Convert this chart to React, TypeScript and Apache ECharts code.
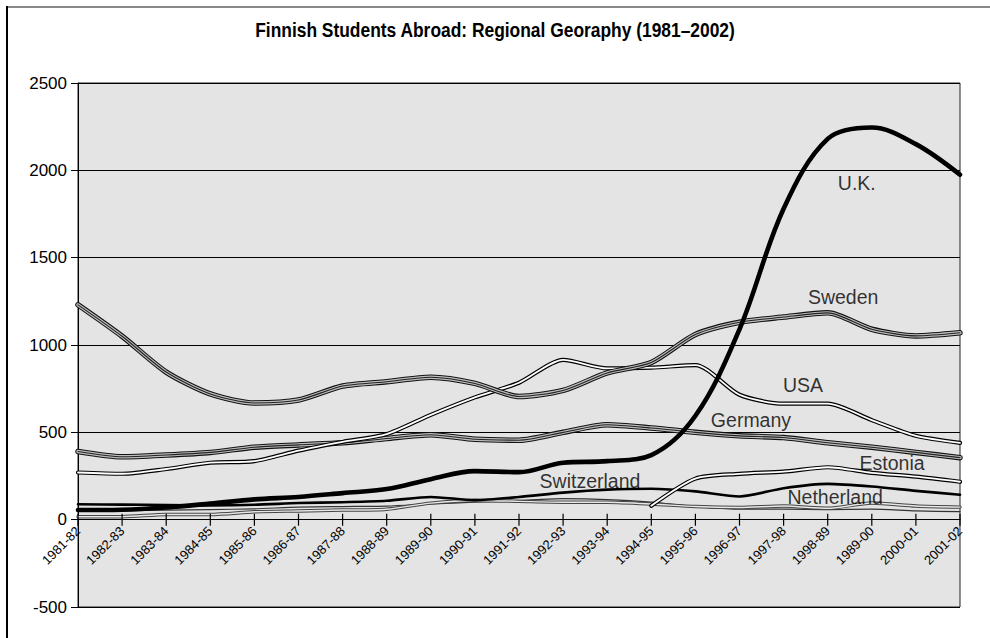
import React, { useEffect, useRef } from 'react';
import * as echarts from 'echarts';

const categories = [
  '1981-82', '1982-83', '1983-84', '1984-85', '1985-86', '1986-87', '1987-88',
  '1988-89', '1989-90', '1990-91', '1991-92', '1992-93', '1993-94', '1994-95',
  '1995-96', '1996-97', '1997-98', '1998-89', '1989-00', '2000-01', '2001-02',
];

const ukValues = [55, 57, 70, 92, 116, 130, 152, 175, 232, 278, 272, 326, 335, 370, 595, 1090, 1780, 2180, 2245, 2150, 1975];
const swedenValues = [1230, 1050, 845, 720, 668, 685, 765, 790, 815, 780, 705, 740, 840, 900, 1060, 1130, 1160, 1184, 1090, 1052, 1070];
const usaValues = [270, 263, 290, 326, 335, 395, 445, 490, 600, 700, 784, 915, 866, 870, 885, 715, 664, 664, 570, 480, 440];
const germanyValues = [390, 360, 370, 385, 415, 428, 440, 465, 486, 460, 455, 500, 543, 525, 500, 480, 470, 440, 415, 385, 355];
const estoniaValues = [null, null, null, null, null, null, null, null, null, null, null, null, null, 80, 235, 262, 275, 300, 268, 246, 217];
const switzerlandValues = [88, 86, 84, 82, 85, 95, 100, 108, 130, 112, 130, 155, 172, 177, 162, 133, 180, 205, 190, 165, 143];
const netherlandValues = [17, 17, 30, 30, 45, 50, 55, 60, 95, 110, 105, 100, 100, 90, 75, 70, 78, 65, 95, 78, 72];
const otherValues = [55, 52, 55, 58, 62, 72, 75, 78, 90, 100, 110, 120, 115, 100, 75, 60, 60, 58, 60, 50, 46];

const yTicks = { min: -500, max: 2500, interval: 500 };

const titleText = 'Finnish Students Abroad: Regional Georaphy (1981\u20132002)';

// label annotations: [category position (index), value, text]
const seriesLabels: [number, number, string][] = [
  [17.66, 1929, 'U.K.'],
  [17.35, 1277, 'Sweden'],
  [16.44, 773, 'USA'],
  [15.26, 572, 'Germany'],
  [18.46, 326, 'Estonia'],
  [11.61, 223, 'Switzerland'],
  [17.17, 132, 'Netherland'],
];

const FONT = "'Liberation Sans', Arial, sans-serif";

type Layer = { color: string; width: number };

function layered(name: string, data: (number | null)[], layers: Layer[], smooth: number) {
  return layers.map((l, k) => ({
    type: 'line',
    name: k === 0 ? name : name + ' ' + k,
    data,
    smooth,
    symbol: 'none',
    showSymbol: false,
    silent: true,
    connectNulls: false,
    xAxisIndex: 0,
    lineStyle: { color: l.color, width: l.width, cap: 'round', join: 'round' },
    emphasis: { disabled: true },
  }));
}

const hatched: Layer[] = [
  { color: '#111', width: 5.5 },
  { color: '#bdbdbd', width: 3.4 },
  { color: '#222', width: 1.1 },
];
const doubleLine: Layer[] = [
  { color: '#000', width: 4.2 },
  { color: '#ffffff', width: 1.8 },
];
const thinDouble: Layer[] = [
  { color: '#444', width: 3.4 },
  { color: '#e8e8e8', width: 1.4 },
];

const GRID_TOP = 83;
const GRID_BOTTOM = 31;
const CHART_H = 638;

export default function App() {
  const ref = useRef<HTMLDivElement>(null);
  useEffect(() => {
    if (!ref.current) return;
    const chart = echarts.init(ref.current, null, { renderer: 'svg' });
    const plotH = CHART_H - GRID_TOP - GRID_BOTTOM;
    const zeroOffset = -plotH * (0 - yTicks.min) / (yTicks.max - yTicks.min);
    const option: any = {
      animation: false,
      backgroundColor: '#ffffff',
      grid: {
        left: 78,
        right: 30,
        top: GRID_TOP,
        bottom: GRID_BOTTOM,
        containLabel: false,
        outerBoundsMode: 'none',
        show: true,
        backgroundColor: '#e4e4e4',
        borderColor: '#222',
        borderWidth: 1,
      },
      xAxis: [
        {
          type: 'category',
          data: categories,
          boundaryGap: false,
          position: 'bottom',
          offset: zeroOffset,
          axisLine: { onZero: false, lineStyle: { color: '#000', width: 1.2 } },
          axisTick: { show: false },
          axisLabel: {
            interval: 0,
            rotate: 45,
            margin: 9,
            fontFamily: FONT,
            fontSize: 13,
            color: '#000',
          },
          splitLine: { show: false },
        },
        {
          type: 'value',
          min: 0,
          max: categories.length - 1,
          show: false,
          position: 'top',
          axisLine: { onZero: false },
          splitLine: { show: false },
        },
      ],
      yAxis: {
        type: 'value',
        min: yTicks.min,
        max: yTicks.max,
        interval: yTicks.interval,
        axisLine: { show: true, lineStyle: { color: '#000', width: 1 } },
        axisTick: { show: true, length: 7, lineStyle: { color: '#000' } },
        axisLabel: {
          fontFamily: FONT,
          fontSize: 17,
          color: '#000',
          margin: 11,
          formatter: (v: number) => String(v),
        },
        splitLine: { show: true, lineStyle: { color: '#000', width: 1 } },
      },
      series: [
        ...layered('Other', otherValues, [{ color: '#333', width: 1.2 }], 0.25),
        ...layered('Netherland', netherlandValues, thinDouble, 0.25),
        ...layered('Switzerland', switzerlandValues, [{ color: '#000', width: 2.6 }], 0.25),
        ...layered('Estonia', estoniaValues, doubleLine, 0.25),
        ...layered('Germany', germanyValues, hatched, 0.25),
        ...layered('USA', usaValues, doubleLine, 0.25),
        ...layered('Sweden', swedenValues, hatched, 0.25),
        ...layered('U.K.', ukValues, [{ color: '#000', width: 4.6 }], 0.35),
        {
          type: 'custom',
          name: 'ticks',
          silent: true,
          clip: false,
          xAxisIndex: 0,
          data: categories.map((c) => [c, 0]),
          renderItem: (params: any, api: any) => {
            const p = api.coord([api.value(0), 0]);
            return {
              type: 'line',
              shape: { x1: p[0], y1: p[1] - 6, x2: p[0], y2: p[1] + 6 },
              style: { stroke: '#000', lineWidth: 1.2 },
            };
          },
          z: 5,
        },
        {
          type: 'scatter',
          name: 'labels',
          silent: true,
          xAxisIndex: 1,
          symbolSize: 0,
          data: seriesLabels.map(([x, y, t]) => ({ value: [x, y], name: t })),
          label: {
            show: true,
            position: 'inside',
            formatter: '{b}',
            fontFamily: FONT,
            fontSize: 19.5,
            color: '#000',
          },
          z: 10,
        },
      ],
      graphic: [
        { type: 'line', shape: { x1: 7, y1: 7, x2: 990, y2: 7 }, style: { stroke: '#888', lineWidth: 2 } },
        { type: 'line', shape: { x1: 7, y1: 6, x2: 7, y2: 638 }, style: { stroke: '#000', lineWidth: 2 } },
        {
          type: 'text',
          x: 495,
          y: 30,
          scaleX: 0.87,
          style: {
            text: titleText,
            textAlign: 'center',
            textVerticalAlign: 'middle',
            font: "bold 20px 'Liberation Sans', Arial, sans-serif",
            fill: '#000',
          },
        },
      ],
    };
    chart.setOption(option);
    return () => chart.dispose();
  }, []);
  return (
    <div
      ref={ref}
      style={{ position: 'absolute', left: 0, top: 0, width: 990, height: 638 }}
    />
  );
}
